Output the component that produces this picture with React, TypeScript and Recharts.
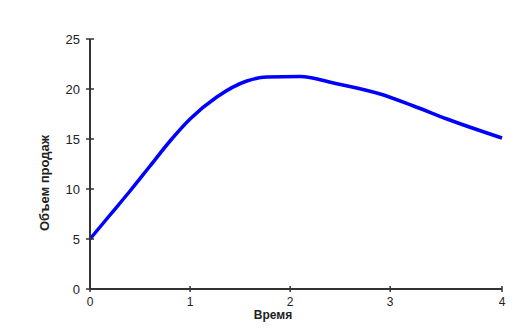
import { LineChart, Line, XAxis, YAxis, Label } from "recharts";

// Time values; the last tick sits a little wider than the others
const TIME = [0, 0.2, 0.4, 0.6, 0.8, 1.0, 1.267, 1.567, 1.767, 2.1, 2.433, 2.9, 3.233, 3.567, 4.117];
const SALES = [5.0, 7.4, 9.8, 12.3, 14.8, 17.0, 19.2, 20.8, 21.2, 21.25, 20.6, 19.5, 18.3, 17.0, 15.1];
const X_TICKS = [0, 1, 2, 3, 4.117];
const X_LABELS = ["0", "1", "2", "3", "4"];
const Y_TICKS = [0, 5, 10, 15, 20, 25];

const FONT = '"Liberation Sans", Arial, sans-serif';
const AXIS = "#333";

const data = TIME.map((t, i) => ({ t, v: SALES[i] }));

function YTick({ x, y, payload }: any) {
  return (
    <g>
      <line x1={x - 4} x2={x + 4} y1={y} y2={y} stroke={AXIS} strokeWidth={1.5} />
      <text x={x - 10} y={y} textAnchor="end" dominantBaseline="central" fontSize={13} fill="#222" fontFamily={FONT}>
        {payload.value}
      </text>
    </g>
  );
}

function XTick({ x, y, payload, index }: any) {
  return (
    <g>
      <line x1={x} x2={x} y1={y - 3} y2={y + 3} stroke={AXIS} strokeWidth={1.5} />
      <text x={x} y={y + 13} textAnchor="middle" dominantBaseline="central" fontSize={12} fill="#222" fontFamily={FONT}>
        {X_LABELS[index] ?? payload.value}
      </text>
    </g>
  );
}

export default function App() {
  return (
    <div style={{ position: "absolute", left: 0, top: 0, background: "#fff" }}>
      <LineChart width={529} height={331} data={data} margin={{ top: 39, right: 27, left: 40, bottom: 12 }}>
        <XAxis
          dataKey="t"
          type="number"
          domain={[0, 4.117]}
          ticks={X_TICKS}
          tick={<XTick />}
          tickLine={false}
          tickSize={0}
          tickMargin={0}
          height={30}
          axisLine={{ stroke: AXIS, strokeWidth: 2 }}
          interval={0}
        >
          <Label
            content={({ viewBox }: any) => (
              <text
                x={viewBox.x + viewBox.width / 2 - 23}
                y={viewBox.y + 26}
                textAnchor="middle"
                dominantBaseline="central"
                fontSize={12}
                fontWeight="bold"
                fill="#222"
                fontFamily={FONT}
              >
                Время
              </text>
            )}
          />
        </XAxis>
        <YAxis
          type="number"
          domain={[0, 25]}
          ticks={Y_TICKS}
          tick={<YTick />}
          tickLine={false}
          tickSize={0}
          tickMargin={0}
          width={50}
          axisLine={{ stroke: AXIS, strokeWidth: 2 }}
          interval={0}
        >
          <Label
            content={({ viewBox }: any) => {
              const cx = viewBox.x + 4;
              const cy = viewBox.y + viewBox.height / 2 + 19;
              return (
                <text
                  x={cx}
                  y={cy}
                  transform={`rotate(-90 ${cx} ${cy})`}
                  textAnchor="middle"
                  dominantBaseline="central"
                  fontSize={13}
                  fontWeight="bold"
                  fill="#222"
                  fontFamily={FONT}
                >
                  Объем продаж
                </text>
              );
            }}
          />
        </YAxis>
        <Line
          type="monotone"
          dataKey="v"
          stroke="#0000ff"
          strokeWidth={3.5}
          dot={false}
          isAnimationActive={false}
        />
      </LineChart>
    </div>
  );
}
